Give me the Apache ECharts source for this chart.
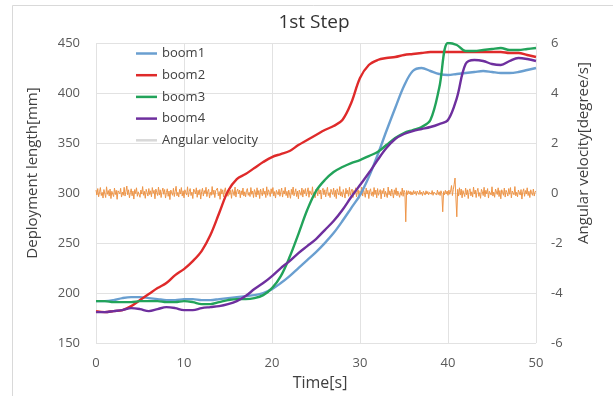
<!DOCTYPE html>
<html>
<head>
<meta charset="utf-8">
<script src="https://cdn.jsdelivr.net/npm/echarts@6/dist/echarts.min.js"></script>
<style>
  html, body { margin: 0; padding: 0; background: #fff; }
  #chart { width: 613px; height: 396px; }
</style>
</head>
<body>
<div id="chart"></div>
<script>
// Time axis for the boom deployment records [s]
const timeSec = [0,1,2,3,4,5,6,7,8,9,10,11,12,13,14,15,16,17,18,19,20,21,22,23,24,25,26,27,28,29,30,31,32,33,34,35,36,37,38,39,40,41,42,43,44,45,46,47,48,49,50];

// Deployment length of each boom [mm]
const boom1 = [192,192,193,195,196,196,195,194,193,193,194,194,193,193,194,195,196,197,198,200,204,210,217,225,233,241,250,260,272,285,298,316,338,362,385,407,422,425,422,419,418,419,420,421,422,421,420,420,421,423,425];
const boom2 = [182,181,182,183,187,193,199,205,210,218,224,232,242,258,280,302,314,319,325,331,336,339,342,348,353,358,363,367,373,390,415,428,433,435,436,438,439,440,441,441,441,441,441,441,441,441,441,440,440,438,436];
const boom3 = [192,192,191,191,191,192,192,192,191,191,192,191,189,189,191,193,194,194,195,198,205,217,236,259,283,302,313,321,326,330,333,337,341,348,355,360,363,366,373,405,450,448,442,442,443,444,445,443,443,444,445];
const boom4 = [181,181,182,183,185,184,182,184,186,185,183,183,185,186,187,189,192,197,204,210,217,225,232,240,247,254,263,272,283,296,308,320,333,345,354,359,362,364,366,369,373,395,429,433,432,429,428,432,435,434,432];

// Angular velocity [degree/s], sampled every 0.1 s from 0 s (one row = 2 s)
const angStep = 0.1;
const angularVelocity = [
  0.12,-0.08,0.18,-0.15,0.05,0.22,-0.10,0.03,-0.20,0.14,0.08,-0.18,0.25,-0.05,0.10,-0.12,0.16,-0.22,0.07,0.02,
  -0.14,0.20,-0.06,0.11,-0.25,0.09,0.15,-0.03,0.19,-0.16,0.04,-0.09,0.23,-0.12,0.06,0.28,-0.07,0.13,-0.19,0.01,
  0.17,-0.11,0.08,-0.24,0.14,-0.02,0.21,-0.13,0.05,0.10,-0.17,0.12,-0.04,0.26,-0.09,0.07,-0.21,0.15,0.03,-0.12,
  0.18,-0.06,0.09,-0.15,0.22,-0.01,0.11,-0.23,0.16,0.04,-0.10,0.24,-0.08,0.13,-0.18,0.06,0.20,-0.05,0.14,-0.20,
  0.02,0.17,-0.13,0.08,-0.26,0.12,0.05,-0.09,0.19,-0.14,0.07,0.27,-0.11,0.03,-0.16,0.15,-0.04,0.22,-0.12,0.09,
  -0.19,0.13,0.01,-0.08,0.25,-0.15,0.06,0.18,-0.10,0.04,-0.22,0.16,0.08,-0.03,0.21,-0.17,0.11,-0.07,0.14,-0.24,
  0.05,0.19,-0.12,0.10,-0.02,0.23,-0.14,0.07,0.15,-0.20,0.03,-0.09,0.26,-0.06,0.12,-0.18,0.09,0.02,0.20,-0.11,
  0.06,-0.25,0.17,-0.04,0.13,-0.15,0.08,0.21,-0.08,0.01,-0.13,0.18,-0.06,0.11,-0.21,0.14,0.04,-0.10,0.24,-0.16,
  0.07,0.16,-0.03,0.12,-0.19,0.09,-0.07,0.20,-0.12,0.05,-0.15,0.10,0.18,-0.09,0.03,-0.14,0.22,-0.05,0.08,-0.18,
  0.14,0.04,-0.16,0.21,-0.07,0.10,-0.22,0.16,0.02,-0.11,0.19,-0.05,0.08,-0.18,0.25,-0.09,0.13,0.03,-0.14,0.17,
  -0.02,0.22,-0.12,0.06,-0.20,0.11,0.18,-0.07,0.15,-0.13,0.04,0.20,-0.16,0.09,-0.04,0.23,-0.10,0.07,-0.19,0.12,
  0.10,-0.21,0.15,-0.06,0.24,-0.11,0.03,0.17,-0.14,0.08,-0.23,0.12,0.06,-0.09,0.20,-0.16,0.13,-0.02,0.18,-0.12,
  -0.05,0.21,-0.17,0.09,0.14,-0.08,0.25,-0.13,0.04,-0.19,0.16,0.07,-0.11,0.22,-0.04,0.12,-0.24,0.10,0.19,-0.07,
  0.13,-0.15,0.06,0.23,-0.10,0.02,-0.18,0.15,0.09,-0.06,0.20,-0.14,0.11,-0.22,0.17,0.03,-0.08,0.26,-0.12,0.05,
  -0.16,0.14,0.08,-0.20,0.19,-0.03,0.11,-0.13,0.23,-0.09,0.06,0.16,-0.18,0.10,-0.05,0.21,-0.15,0.04,0.13,-0.21,
  0.09,-0.07,0.24,-0.12,0.15,0.01,-0.17,0.20,-0.04,0.11,-0.22,0.08,0.17,-0.10,0.05,-0.14,0.22,-0.06,0.12,-0.19,
  0.18,-0.09,0.03,0.14,-0.23,0.10,-0.02,0.19,-0.15,0.07,0.12,-0.18,0.24,-0.07,0.09,-0.12,0.16,0.02,-0.20,0.13,
  -0.06,0.21,-0.11,0.08,0.15,-0.17,0.05,-0.09,0.20,-0.13,0.11,0.03,-1.15,0.10,-0.06,0.09,-0.04,0.07,-0.08,0.05,
  -0.07,0.10,-0.03,0.06,-0.09,0.08,0.02,-0.06,0.11,-0.05,0.04,-0.10,0.07,0.01,-0.08,0.09,-0.04,0.06,-0.07,0.03,
  0.08,-0.05,0.10,-0.09,0.04,-0.03,0.07,-0.08,0.12,-0.06,0.05,-0.10,0.09,-0.02,-0.75,0.06,-0.07,0.11,-0.04,0.08,
  -0.09,0.12,-0.05,0.08,0.30,-0.10,0.14,0.35,0.60,-0.20,-0.95,0.15,-0.12,0.21,-0.08,0.16,-0.19,0.10,0.04,-0.14,
  0.20,-0.07,0.13,-0.22,0.09,0.17,-0.11,0.05,-0.16,0.24,-0.04,0.12,-0.18,0.08,0.19,-0.13,0.02,-0.21,0.15,0.06,
  -0.10,0.23,-0.15,0.11,-0.03,0.18,-0.20,0.07,0.14,-0.08,0.25,-0.12,0.04,-0.17,0.16,0.09,-0.06,0.21,-0.14,0.10,
  -0.23,0.13,0.05,-0.09,0.20,-0.16,0.11,0.02,-0.12,0.18,-0.05,0.22,-0.19,0.08,0.15,-0.07,0.26,-0.11,0.03,-0.15,
  0.12,0.19,-0.08,0.14,-0.24,0.06,0.17,-0.13,0.10,-0.04,0.21,-0.10,0.07,-0.18,0.13,0.01,-0.09,0.16,-0.12,0.05,
  0.08
];

const seriesNames = ['boom1', 'boom2', 'boom3', 'boom4', 'Angular velocity'];
const seriesColors = ['#6A9FD0', '#DF2A2A', '#22A35A', '#6E2F9E', '#EE9548'];

const FONT = '"Open Sans", "Noto Sans", sans-serif';

function pairs(xs, ys) {
  return ys.map((v, i) => [xs[i], v]);
}

const boomData = [boom1, boom2, boom3, boom4];
const series = boomData.map((vals, k) => ({
  name: seriesNames[k],
  type: 'line',
  yAxisIndex: 0,
  data: pairs(timeSec, vals),
  smooth: 0.35,
  symbol: 'none',
  z: 3,
  lineStyle: { color: seriesColors[k], width: 2.4 },
  itemStyle: { color: seriesColors[k] }
}));

series.push({
  name: seriesNames[4],
  type: 'line',
  yAxisIndex: 1,
  data: angularVelocity.map((v, i) => [i * angStep, v]),
  symbol: 'none',
  z: 2,
  lineStyle: { color: seriesColors[4], width: 1 },
  itemStyle: { color: seriesColors[4] }
});

const chart = echarts.init(document.getElementById('chart'), null, { renderer: 'canvas' });

chart.setOption({
  animation: false,
  backgroundColor: '#ffffff',
  color: seriesColors,
  graphic: [{
    type: 'rect',
    shape: { x: 12.5, y: 5.5, width: 700, height: 500 },
    style: { fill: 'none', stroke: '#d9d9d9', lineWidth: 1 },
    silent: true
  }],
  title: {
    text: '1st Step',
    left: 309,
    top: 8,
    textAlign: 'center',
    textStyle: { fontFamily: FONT, fontSize: 19, fontWeight: 'normal', color: '#333333' }
  },
  legend: {
    orient: 'vertical',
    left: 136,
    top: 47,
    padding: 0,
    icon: 'rect',
    itemWidth: 21,
    itemHeight: 2.5,
    itemGap: 8.7,
    textStyle: { fontFamily: FONT, fontSize: 13, color: '#404040' },
    data: [
      { name: 'boom1' },
      { name: 'boom2' },
      { name: 'boom3' },
      { name: 'boom4' },
      { name: 'Angular velocity', itemStyle: { color: '#d8d8d8' } }
    ]
  },
  grid: { left: 96, right: 77, top: 43, bottom: 51 },
  xAxis: {
    type: 'value',
    min: 0,
    max: 50,
    interval: 10,
    name: 'Time[s]',
    nameLocation: 'middle',
    nameGap: 28,
    nameTextStyle: { fontFamily: FONT, fontSize: 16, color: '#404040', padding: [0, 0, 0, 8] },
    axisLine: { show: false },
    axisTick: { show: false },
    axisLabel: { margin: 14, fontFamily: FONT, fontSize: 13, color: '#595959' },
    splitLine: { show: true, lineStyle: { color: '#e2e2e2', width: 1 } }
  },
  yAxis: [{
    type: 'value',
    min: 150,
    max: 450,
    interval: 50,
    name: 'Deployment length[mm]',
    nameLocation: 'middle',
    nameGap: 56,
    nameTextStyle: { fontFamily: FONT, fontSize: 15, color: '#404040', padding: [0, 0, 0, 40] },
    axisLine: { show: false },
    axisTick: { show: false },
    axisLabel: { margin: 16, fontFamily: FONT, fontSize: 13, color: '#595959' },
    splitLine: { show: true, lineStyle: { color: '#e2e2e2', width: 1 } }
  }, {
    type: 'value',
    min: -6,
    max: 6,
    interval: 2,
    position: 'right',
    name: 'Angular velocity[degree/s]',
    nameLocation: 'middle',
    nameGap: 40,
    nameRotate: 90,
    nameTextStyle: { fontFamily: FONT, fontSize: 15, color: '#404040', padding: [0, 0, 0, 80] },
    axisLine: { show: false },
    axisTick: { show: false },
    axisLabel: { margin: 15, fontFamily: FONT, fontSize: 13, color: '#595959' },
    splitLine: { show: false }
  }],
  series: series
});
</script>
</body>
</html>
